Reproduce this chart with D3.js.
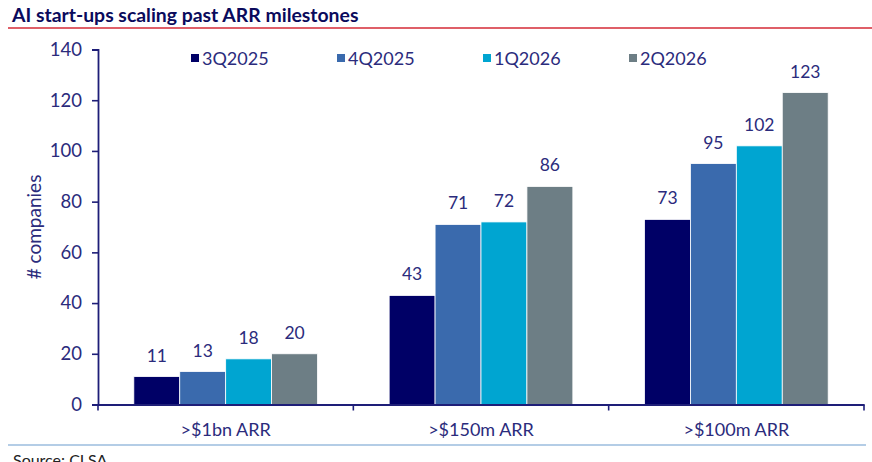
<!DOCTYPE html>
<html>
<head>
<meta charset="utf-8">
<script src="https://cdn.jsdelivr.net/npm/d3@7"></script>
<style>
  html, body { margin: 0; padding: 0; background: #fff; }
  svg { display: block; font-family: Lato, "Open Sans", sans-serif; }
</style>
</head>
<body>
<svg id="chart" width="872" height="462"></svg>
<script>
const categories = [">$1bn ARR", ">$150m ARR", ">$100m ARR"];
const seriesNames = ["3Q2025", "4Q2025", "1Q2026", "2Q2026"];
const q3_2025 = [11, 43, 73];
const q4_2025 = [13, 71, 95];
const q1_2026 = [18, 72, 102];
const q2_2026 = [20, 86, 123];
const yTicks = [0, 20, 40, 60, 80, 100, 120, 140];
const colors = ["#000066", "#3a6aad", "#00a5d1", "#6d7e85"];

const seriesValues = [q3_2025, q4_2025, q1_2026, q2_2026];
const textColor = "#2b2b7c";
const axisColor = "#1e1e78";

const svg = d3.select("#chart");
const plotLeft = 98, plotRight = 864, plotTop = 49.5, plotBottom = 404.5;

const x0 = d3.scaleBand().domain(categories).range([plotLeft, plotRight]).padding(0);
const x1 = d3.scaleBand().domain(seriesNames).range([0, x0.bandwidth()]).paddingInner(0).paddingOuter(0.78);
const y = d3.scaleLinear().domain([0, 140]).range([plotBottom, plotTop]);

// Title
svg.append("text").attr("x", 12).attr("y", 22)
  .attr("font-size", 19.4).attr("font-weight", "bold").attr("fill", "#0a0a5c")
  .text("AI start-ups scaling past ARR milestones");
svg.append("line").attr("x1", 8).attr("x2", 872).attr("y1", 28).attr("y2", 28)
  .attr("stroke", "#d42a36").attr("stroke-width", 1.6);

// Bars
const groups = svg.selectAll("g.grp").data(categories).join("g")
  .attr("class", "grp")
  .attr("transform", d => `translate(${x0(d)},0)`);

groups.each(function(cat, ci) {
  const g = d3.select(this);
  seriesNames.forEach((s, si) => {
    const v = seriesValues[si][ci];
    g.append("rect")
      .attr("x", x1(s)).attr("width", x1.bandwidth())
      .attr("y", y(v)).attr("height", y(0) - y(v))
      .attr("fill", colors[si]).attr("stroke", "#ffffff").attr("stroke-width", 0.8);
    g.append("text")
      .attr("x", x1(s) + x1.bandwidth() / 2).attr("y", y(v) - 15)
      .attr("text-anchor", "middle").attr("font-size", 17.5).attr("fill", textColor)
      .text(v);
  });
});

// Y axis
const yAxis = svg.append("g").attr("transform", `translate(${plotLeft},0)`)
  .call(d3.axisLeft(y).tickValues(yTicks).tickSize(6).tickPadding(10));
yAxis.select(".domain").attr("stroke", axisColor).attr("stroke-width", 1.8);
yAxis.selectAll(".tick line").attr("stroke", axisColor).attr("stroke-width", 1.6);
yAxis.selectAll(".tick text").attr("fill", textColor).attr("font-size", 18.5)
  .attr("font-family", "Lato, 'Open Sans', sans-serif");

// X axis
const xAxis = svg.append("g").attr("transform", `translate(0,${plotBottom})`)
  .call(d3.axisBottom(x0).tickSize(0).tickPadding(19));
xAxis.select(".domain").attr("stroke", axisColor).attr("stroke-width", 1.8);
xAxis.selectAll(".tick text").attr("fill", textColor).attr("font-size", 18)
  .attr("font-family", "Lato, 'Open Sans', sans-serif");
// category separator ticks
const sepPositions = categories.map(c => x0(c)).concat([x0(categories[categories.length - 1]) + x0.bandwidth()]);
svg.selectAll("line.sep").data(sepPositions).join("line").attr("class", "sep")
  .attr("x1", d => d).attr("x2", d => d).attr("y1", plotBottom).attr("y2", plotBottom + 6)
  .attr("stroke", axisColor).attr("stroke-width", 1.6);

// Y axis title
svg.append("text").attr("transform", "translate(41,227) rotate(-90)")
  .attr("text-anchor", "middle").attr("font-size", 19).attr("fill", textColor)
  .text("# companies");

// Legend
const legendX = [191, 337, 483, 629];
const leg = svg.selectAll("g.leg").data(seriesNames).join("g").attr("class", "leg")
  .attr("transform", (d, i) => `translate(${legendX[i]},58)`);
leg.append("rect").attr("x", 0).attr("y", -4).attr("width", 8).attr("height", 8)
  .attr("fill", (d, i) => colors[i]);
leg.append("text").attr("x", 11).attr("y", 6.5).attr("font-size", 18).attr("fill", textColor)
  .text(d => d);

// Footer
svg.append("line").attr("x1", 8).attr("x2", 866).attr("y1", 445).attr("y2", 445)
  .attr("stroke", "#b4cde6").attr("stroke-width", 1.8);
svg.append("text").attr("x", 13).attr("y", 466).attr("font-size", 16).attr("fill", "#222")
  .text("Source: CLSA");
</script>
</body>
</html>
